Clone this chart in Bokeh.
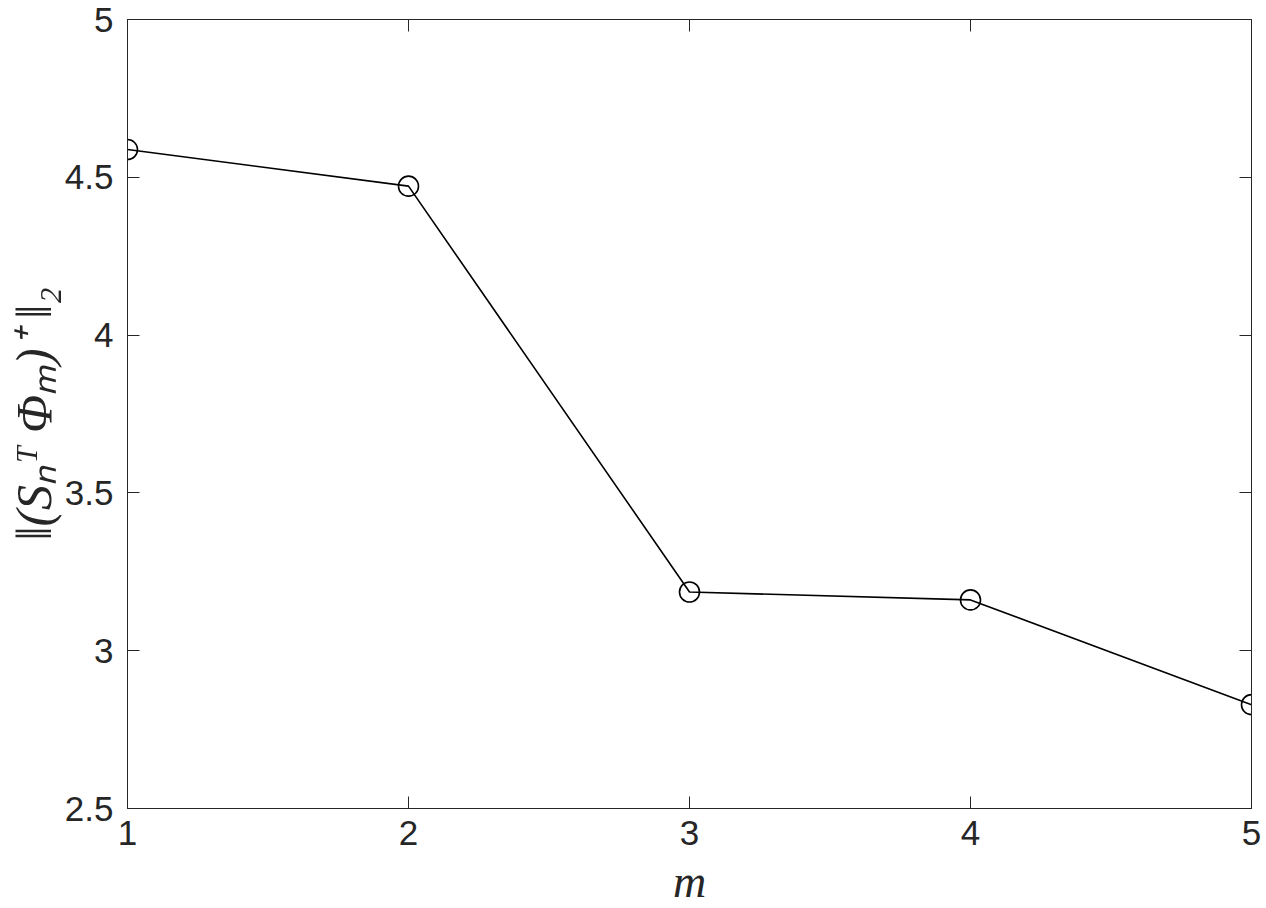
from bokeh.plotting import figure
from bokeh.models import LinearAxis, FixedTicker, Range1d
from bokeh.embed import file_html
from bokeh.resources import INLINE

m_vals = [1, 2, 3, 4, 5]
norm_vals = [4.588, 4.472, 3.186, 3.161, 2.829]
x_ticks = [1, 2, 3, 4, 5]
y_ticks = [2.5, 3, 3.5, 4, 4.5, 5]

p = figure(frame_width=1124, frame_height=789, output_backend="svg", toolbar_location=None,
           x_range=Range1d(1, 5), y_range=Range1d(2.5, 5),
           min_border_left=127, min_border_top=19, min_border_right=10, min_border_bottom=90,
           x_axis_location=None, y_axis_location=None)
p.grid.visible = False
p.outline_line_color = "#262626"
p.outline_line_width = 1
p.background_fill_color = "white"
p.border_fill_color = "white"

TXT = "#262626"

def style(ax, labels=True):
    ax.major_tick_in = 12
    ax.major_tick_out = 0
    ax.minor_tick_in = 0
    ax.minor_tick_out = 0
    ax.axis_line_color = "#262626"
    ax.major_tick_line_color = "#262626"
    ax.major_label_text_font = "Liberation Sans"
    ax.major_label_text_font_size = "35px"
    ax.major_label_text_color = TXT
    if not labels:
        ax.major_label_text_font_size = "0px"
        ax.major_label_text_alpha = 0

xb = LinearAxis(ticker=FixedTicker(ticks=x_ticks))
style(xb)
xb.major_label_standoff = 12
xb.axis_label = "m"
xb.axis_label_text_font = "Liberation Serif"
xb.axis_label_text_font_style = "italic"
xb.axis_label_text_font_size = "46px"
xb.axis_label_text_color = TXT
xb.axis_label_standoff = 8
p.add_layout(xb, "below")

yl = LinearAxis(ticker=FixedTicker(ticks=y_ticks))
style(yl)
yl.major_label_standoff = 14
yl.axis_label = "‖(Sₙᵀ Φₘ)⁺ ‖₂"
yl.axis_label_text_font = "Liberation Serif"
yl.axis_label_text_font_style = "italic"
yl.axis_label_text_font_size = "50px"
yl.axis_label_text_color = TXT
yl.axis_label_standoff = 0
p.add_layout(yl, "left")

xt = LinearAxis(ticker=FixedTicker(ticks=x_ticks))
style(xt, labels=False)
p.add_layout(xt, "above")

yr = LinearAxis(ticker=FixedTicker(ticks=y_ticks))
style(yr, labels=False)
p.add_layout(yr, "right")

p.line(m_vals, norm_vals, line_color="black", line_width=1.6)
p.scatter(m_vals, norm_vals, marker="circle", size=20, fill_color=None,
          line_color="black", line_width=1.6)

open("out.html", "w").write(file_html(p, INLINE))
